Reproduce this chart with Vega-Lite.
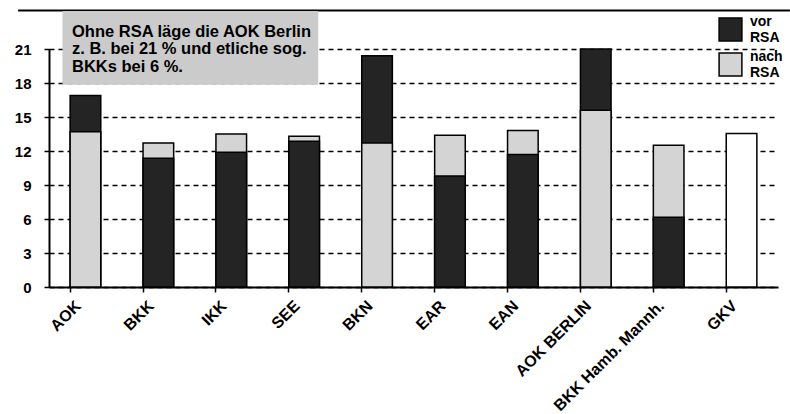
{
  "$schema": "https://vega.github.io/schema/vega-lite/v6.json",
  "width": 729,
  "height": 238,
  "autosize": "none",
  "padding": {"left": 49, "top": 49, "right": 12, "bottom": 127},
  "background": "white",
  "config": {
    "font": "Liberation Sans",
    "view": {"stroke": null}
  },
  "datasets": {
    "werte": [
      {"kasse": "AOK", "typ": "vor RSA", "wert": 16.9},
      {"kasse": "AOK", "typ": "nach RSA", "wert": 13.7},
      {"kasse": "BKK", "typ": "vor RSA", "wert": 11.35},
      {"kasse": "BKK", "typ": "nach RSA", "wert": 12.7},
      {"kasse": "IKK", "typ": "vor RSA", "wert": 11.9},
      {"kasse": "IKK", "typ": "nach RSA", "wert": 13.5},
      {"kasse": "SEE", "typ": "vor RSA", "wert": 12.85},
      {"kasse": "SEE", "typ": "nach RSA", "wert": 13.3},
      {"kasse": "BKN", "typ": "vor RSA", "wert": 20.4},
      {"kasse": "BKN", "typ": "nach RSA", "wert": 12.7},
      {"kasse": "EAR", "typ": "vor RSA", "wert": 9.8},
      {"kasse": "EAR", "typ": "nach RSA", "wert": 13.4},
      {"kasse": "EAN", "typ": "vor RSA", "wert": 11.7},
      {"kasse": "EAN", "typ": "nach RSA", "wert": 13.8},
      {"kasse": "AOK BERLIN", "typ": "vor RSA", "wert": 21.0},
      {"kasse": "AOK BERLIN", "typ": "nach RSA", "wert": 15.6},
      {"kasse": "BKK Hamb. Mannh.", "typ": "vor RSA", "wert": 6.15},
      {"kasse": "BKK Hamb. Mannh.", "typ": "nach RSA", "wert": 12.5},
      {"kasse": "GKV", "typ": "GKV", "wert": 13.55}
    ],
    "notiz": [
      {"zeilen": ["Ohne RSA läge die AOK Berlin", "z. B. bei 21 % und etliche sog.", "BKKs bei 6 %."]}
    ]
  },
  "resolve": {"axis": {"x": "independent", "y": "independent"}},
  "layer": [
    {
      "data": {"name": "werte"},
      "mark": {"type": "bar", "stroke": "black", "strokeWidth": 1.5, "width": {"band": 1}},
      "encoding": {
        "x": {
          "field": "kasse",
          "type": "nominal",
          "scale": {
            "domain": ["AOK", "BKK", "IKK", "SEE", "BKN", "EAR", "EAN", "AOK BERLIN", "BKK Hamb. Mannh.", "GKV"],
            "paddingInner": 0.58,
            "paddingOuter": 0.29
          },
          "axis": {
            "title": null,
            "bandPosition": 0,
            "labelOffset": -7,
            "labelAngle": -45,
            "labelAlign": "right",
            "labelBaseline": "middle",
            "labelFontSize": 16,
            "labelFontWeight": "bold",
            "labelColor": "black",
            "labelPadding": 11,
            "labelOverlap": false,
            "domainColor": "black",
            "domainWidth": 2,
            "tickColor": "black",
            "tickWidth": 1.5,
            "tickSize": 5,
            "grid": false
          }
        },
        "y": {
          "field": "wert",
          "type": "quantitative",
          "stack": null,
          "scale": {"domain": [0, 21], "nice": false, "zero": true},
          "axis": {
            "title": null,
            "values": [0, 3, 6, 9, 12, 15, 18, 21],
            "labelOverlap": false,
            "labelFontSize": 15,
            "labelFontWeight": "bold",
            "labelColor": "black",
            "labelPadding": 13,
            "domainColor": "black",
            "domainWidth": 2,
            "tickColor": "black",
            "tickWidth": 1.5,
            "tickSize": 5,
            "grid": true,
            "gridColor": "black",
            "gridWidth": 1.5,
            "gridDash": [5, 4]
          }
        },
        "color": {
          "field": "typ",
          "type": "nominal",
          "scale": {"domain": ["vor RSA", "nach RSA", "GKV"], "range": ["#242424", "#d4d4d4", "#ffffff"]},
          "legend": {
            "title": null,
            "values": ["vor RSA", "nach RSA"],
            "orient": "none",
            "legendX": 669,
            "legendY": -32,
            "padding": 0,
            "symbolType": "square",
            "symbolSize": 520,
            "symbolStrokeColor": "black",
            "symbolStrokeWidth": 1.5,
            "symbolOpacity": 1,
            "labelFontSize": 14,
            "labelFontWeight": "bold",
            "labelColor": "black",
            "labelExpr": "split(datum.label, ' ')",
            "labelLimit": 100,
            "labelOffset": 7,
            "rowPadding": 4,
            "encode": {"labels": {"update": {"dy": {"value": -8}}}}
          }
        },
        "order": {"field": "wert", "sort": "descending"}
      }
    },
    {
      "data": {"name": "notiz"},
      "mark": {"type": "rule", "color": "black", "strokeWidth": 2, "clip": false},
      "encoding": {
        "x": {"datum": "AOK", "type": "nominal", "bandPosition": -1.7, "axis": null},
        "x2": {"datum": "GKV", "bandPosition": 2.08},
        "y": {"datum": 24.4, "type": "quantitative", "axis": null}
      }
    },
    {
      "data": {"name": "notiz"},
      "mark": {"type": "rect", "color": "#cbcbcb", "clip": false},
      "encoding": {
        "x": {"datum": "AOK", "type": "nominal", "bandPosition": -0.25, "axis": null},
        "x2": {"datum": "SEE", "bandPosition": 0.96},
        "y": {"datum": 24.35, "type": "quantitative", "axis": null},
        "y2": {"datum": 17.85}
      }
    },
    {
      "data": {"name": "notiz"},
      "mark": {"type": "text", "align": "left", "baseline": "top", "fontSize": 16.5, "fontWeight": "bold", "lineHeight": 17.5, "color": "black", "clip": false},
      "encoding": {
        "x": {"datum": "AOK", "type": "nominal", "bandPosition": 0.06, "axis": null},
        "y": {"datum": 23.25, "type": "quantitative", "axis": null},
        "text": {"field": "zeilen"}
      }
    }
  ]
}
